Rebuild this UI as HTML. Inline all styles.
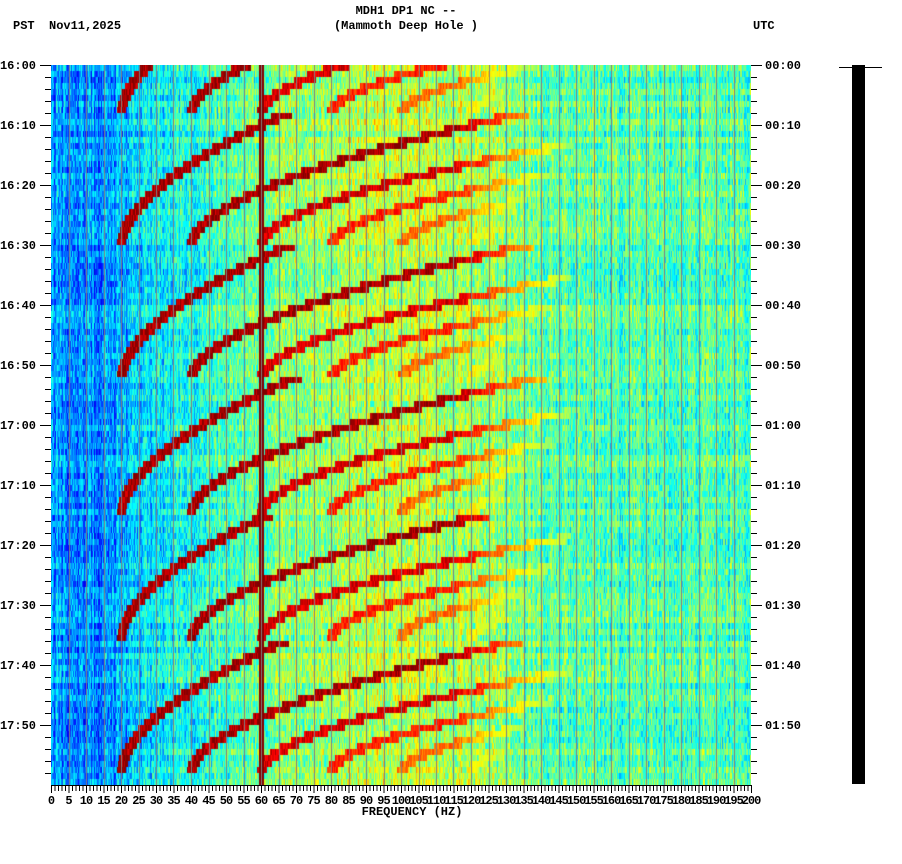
<!DOCTYPE html>
<html><head><meta charset="utf-8">
<style>
body{margin:0;background:#fff;width:902px;height:864px;overflow:hidden;position:relative;font-family:"Liberation Mono",monospace;font-weight:bold;font-size:12px;color:#000}
.t{position:absolute;white-space:pre;line-height:12px}
canvas{position:absolute;left:51px;top:65px}
svg{position:absolute;left:0;top:0}
</style></head><body>
<div class="t" style="left:0;width:812px;text-align:center;top:5px">MDH1 DP1 NC --</div>
<div class="t" style="left:0;width:812px;text-align:center;top:20px">(Mammoth Deep Hole )</div>
<div class="t" style="left:13px;top:20px">PST  Nov11,2025</div>
<div class="t" style="left:753px;top:20px">UTC</div>
<canvas id="spec" width="700" height="720"></canvas>
<svg id="ax" width="902" height="864"></svg>
<div class="t" style="left:0;width:824px;text-align:center;top:806px">FREQUENCY (HZ)</div>
<script>
// data
const baseLevels=[0.28,0.27,0.26,0.27,0.30,0.33,0.36,0.38,0.40,0.42,0.44,0.46,0.49,0.51,0.52,0.53,0.54,0.55,0.55,0.56,0.56,0.56,0.56,0.55,0.54,0.52,0.50,0.48,0.47,0.46,0.46,0.46,0.45,0.45,0.45,0.45,0.45,0.45,0.45,0.45,0.45];
const cycleEnds=[8,30,52.2,74.7,95.5,117.8];
const endFreq=20, sweepCoef=0.2, sweepPow=1.77;
const harmonicStrength=[1.0,1.0,0.95,0.88,0.8,0.72,0.66];
const timeTicks=["16:00","16:10","16:20","16:30","16:40","16:50","17:00","17:10","17:20","17:30","17:40","17:50"];
const utcTicks=["00:00","00:10","00:20","00:30","00:40","00:50","01:00","01:10","01:20","01:30","01:40","01:50"];
const freqTicks=[0,5,10,15,20,25,30,35,40,45,50,55,60,65,70,75,80,85,90,95,100,105,110,115,120,125,130,135,140,145,150,155,160,165,170,175,180,185,190,195,200];

const W=700,H=720,FMAX=200,TMAX=120;
const xS=f=>f/FMAX*W, yS=t=>t/TMAX*H;
function hash(a,b){let h=(a*374761393+b*668265263)|0;h=(h^(h>>>13))*1274126177|0;return ((h^(h>>>16))>>>0)/4294967296;}
function jet(v){v=Math.max(0,Math.min(1,v));const c=x=>Math.round(255*Math.max(0,Math.min(1,1.5-Math.abs(x))));return [c(4*v-3),c(4*v-2),c(4*v-1)];}
function base(f){const i=Math.min(39,Math.floor(f/5)),r=f/5-i;return baseLevels[i]*(1-r)+baseLevels[i+1]*r;}
function cycleEnd(t){for(const e of cycleEnds){if(t<=e)return e;}return null;}
function fund(e,t){return endFreq+sweepCoef*Math.pow(Math.max(0,e-t),sweepPow);}
const cv=document.getElementById('spec'),ctx=cv.getContext('2d');
const img=ctx.createImageData(W,H);
const rowH=6,rows=H/rowH;
for(let r=0;r<rows;r++){
  const t0=r*TMAX/rows,t1=(r+1)*TMAX/rows;
  const e=cycleEnd((t0+t1)/2);
  let fa=null,fb=null;
  if(e!==null){fa=fund(e,t0);fb=fund(e,t1);}
  const rowN=(hash(r,999)-0.5)*0.08;
  for(let x=0;x<W;x++){
    const f=x/W*FMAX;
    let v=base(f)+rowN+(hash(x,7)-0.5)*0.12+(hash(x,r)-0.5)*0.2;
    if(f>=59.2&&f<=60.8)v=1;
    if(Math.abs(f-180)<0.2)v=0.95;
    if(fa){
      for(let n=1;n<=harmonicStrength.length;n++){
        const lo=Math.min(fa,fb)*n-1.2,hi=Math.max(fa,fb)*n+1.2;
        if(f>=lo&&f<=hi){
          let s=harmonicStrength[n-1];
          if(f>115)s-=(f-115)*0.012;
          if(s>0.55)v=Math.max(v,s*(0.9+hash(x,r+5)*0.12));
        }
      }
    }
    const c=jet(v);
    for(let y=r*rowH;y<(r+1)*rowH;y++){const k=(y*W+x)*4;img.data[k]=c[0];img.data[k+1]=c[1];img.data[k+2]=c[2];img.data[k+3]=255;}
  }
}
ctx.putImageData(img,0,0);
ctx.fillStyle='#808080';
for(const f of freqTicks){if(f>0&&f<200)ctx.fillRect(Math.round(xS(f)),0,1,H);}
const NS='http://www.w3.org/2000/svg',svg=document.getElementById('ax');
function el(tag,attrs,txt){const e=document.createElementNS(NS,tag);for(const k in attrs)e.setAttribute(k,attrs[k]);if(txt!==undefined)e.textContent=txt;svg.appendChild(e);return e;}
const X0=51,Y0=65;
for(let m=0;m<=118;m+=2){
  const y=Y0+yS(m)+0.5,maj=m%10===0;
  let a=el('line',{x1:maj?40:45,x2:X0,y1:y,y2:y,stroke:'#000'});
  
  
  let b=el('line',{x1:751,x2:maj?762:757,y1:y,y2:y,stroke:'#000'});
  
  
}
timeTicks.forEach((s,i)=>{
  const y=Y0+yS(i*10)+4;
  let a=el('text',{x:36,y:y,'text-anchor':'end','font-family':'Liberation Mono, monospace','font-weight':'bold','font-size':12},s);
  
  
  let b=el('text',{x:765,y:y,'font-family':'Liberation Mono, monospace','font-weight':'bold','font-size':12},utcTicks[i]);
  
  
});
for(let f=0;f<=200;f++){
  const x=X0+xS(f)+0.5;
  let a=el('line',{x1:x,x2:x,y1:785,y2:f%5===0?793:791,stroke:'#000'});
  
  
}
el('line',{x1:51,x2:751,y1:785.5,y2:785.5,stroke:'#000'});
freqTicks.forEach(f=>{
  let a=el('text',{x:X0+xS(f),y:804,'text-anchor':'middle','font-family':'Liberation Mono, monospace','font-weight':'bold','font-size':12,'letter-spacing':'-1'},String(f));
  
  
});
let bar=el('rect',{x:852,y:65,width:13,height:719,fill:'#000'});


let bl=el('line',{x1:839,x2:882,y1:67.5,y2:67.5,stroke:'#000'});


</script>
</body></html>
